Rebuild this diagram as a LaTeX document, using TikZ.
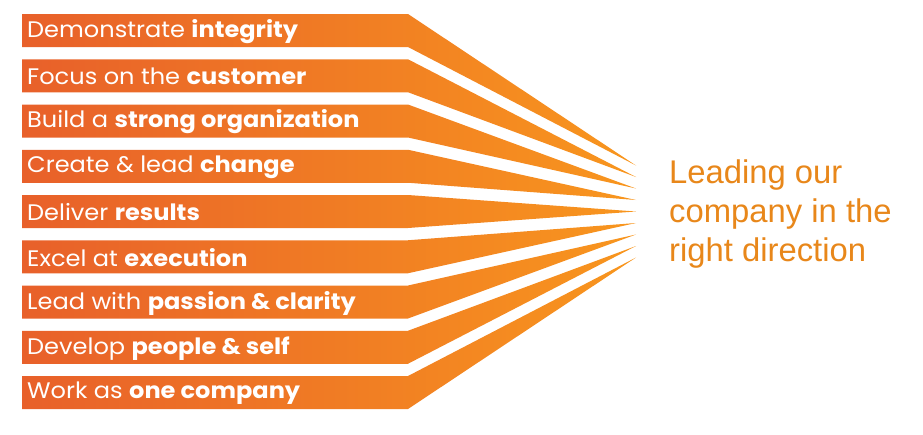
\documentclass[tikz,border=0pt]{standalone}
\usepackage{graphicx}
\usepackage{fontspec}
\setmainfont{Liberation Sans}
\newfontfamily\barfont{Poppins}
\definecolor{barleft}{RGB}{232,96,42}
\definecolor{barright}{RGB}{248,150,30}
\definecolor{goaltxt}{RGB}{232,135,26}
\tikzset{
  bartext/.style={anchor=west, inner sep=0pt, text=white, font=\barfont\fontsize{22.5}{26}\selectfont},
  goalstyle/.style={anchor=north west, inner sep=0pt, align=left, text=goaltxt, font=\fontsize{32.8}{39}\selectfont}
}
\begin{document}
\begin{tikzpicture}[x=1pt,y=-1pt]
\useasboundingbox (0,0) rectangle (923,434);
\foreach \txt [count=\i from 0] in {Demonstrate \textbf{integrity},Focus on the \textbf{customer},Build a \textbf{strong organization},Create \& lead \textbf{change},Deliver \textbf{results},Excel at \textbf{execution},Lead with \textbf{passion \& clarity},Develop \textbf{people \& self},Work as \textbf{one company}}{
  \pgfmathsetmacro\ytop{14+45.25*\i}
  \pgfmathsetmacro\ybot{\ytop+33}
  \pgfmathsetmacro\ymid{\ytop+17.5}
  \pgfmathsetmacro\ytip{211.5+(\i-4)*11.5}
  \coordinate (tl\i) at (22,\ytop);
  \coordinate (tr\i) at (408,\ytop);
  \coordinate (tip\i) at (636,\ytip);
  \coordinate (br\i) at (408,\ybot);
  \coordinate (bl\i) at (22,\ybot);
  \shade[left color=barleft, right color=barright] (tl\i) -- (tr\i) -- (tip\i) -- (br\i) -- (bl\i) -- cycle;
  \node[bartext] (t\i) at (27,\ymid) {\scalebox{1.07}[1]{\txt}};
}
\node[goalstyle] (goal) at (669,159.5) {Leading our\\company in the\\right direction};
\end{tikzpicture}
\end{document}
